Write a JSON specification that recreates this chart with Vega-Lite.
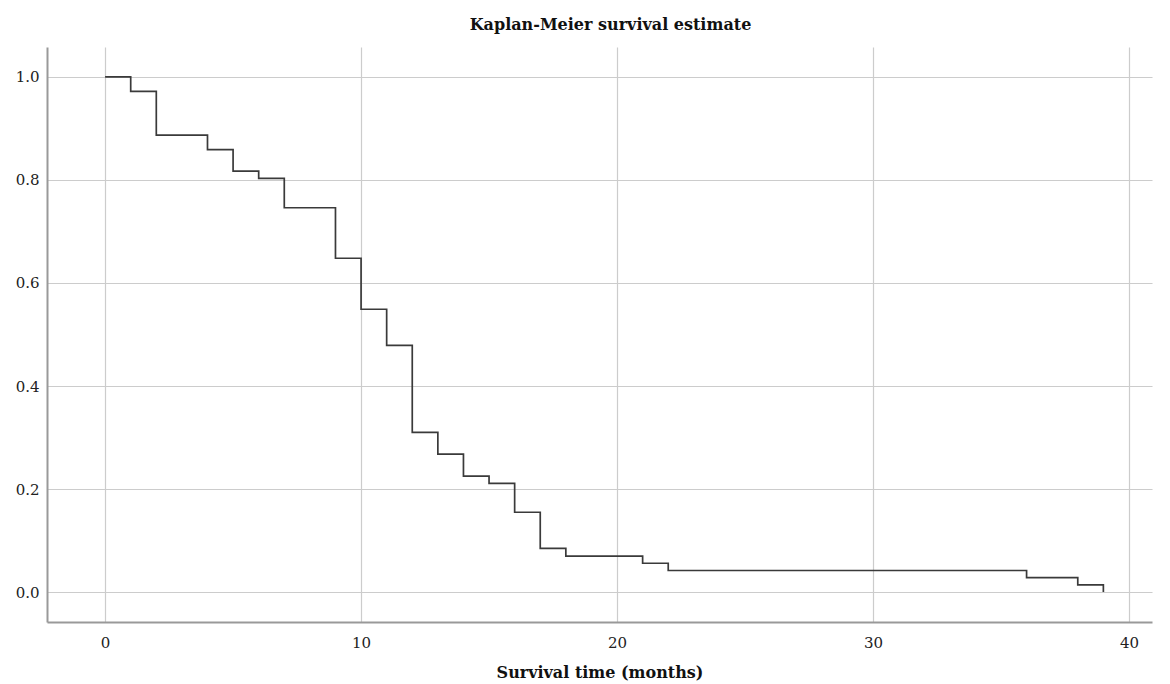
{
  "$schema": "https://vega.github.io/schema/vega-lite/v6.json",
  "width": 1105,
  "height": 575,
  "autosize": "none",
  "padding": {"left": 47, "top": 47, "right": 18, "bottom": 62},
  "background": "white",
  "title": {
    "text": "Kaplan-Meier survival estimate",
    "font": "DejaVu Serif",
    "fontSize": 16,
    "fontWeight": "bold",
    "color": "#111",
    "anchor": "middle",
    "offset": 14,
    "dx": 11
  },
  "config": {
    "view": {"stroke": null},
    "axis": {
      "labelFont": "DejaVu Serif",
      "labelFontSize": 15,
      "labelColor": "#222",
      "titleFont": "DejaVu Serif",
      "titleFontSize": 16,
      "titleFontWeight": "bold",
      "titleColor": "#111",
      "gridColor": "#cccccc",
      "gridWidth": 1.2,
      "domainColor": "#999999",
      "domainWidth": 2,
      "ticks": false
    }
  },
  "data": {
    "values": [
      {"time": 0, "survival": 1.0},
      {"time": 1, "survival": 0.972},
      {"time": 2, "survival": 0.887},
      {"time": 4, "survival": 0.859},
      {"time": 5, "survival": 0.817},
      {"time": 6, "survival": 0.803},
      {"time": 7, "survival": 0.746},
      {"time": 9, "survival": 0.648},
      {"time": 10, "survival": 0.549},
      {"time": 11, "survival": 0.479},
      {"time": 12, "survival": 0.310},
      {"time": 13, "survival": 0.268},
      {"time": 14, "survival": 0.225},
      {"time": 15, "survival": 0.211},
      {"time": 16, "survival": 0.155},
      {"time": 17, "survival": 0.085},
      {"time": 18, "survival": 0.070},
      {"time": 21, "survival": 0.056},
      {"time": 22, "survival": 0.042},
      {"time": 36, "survival": 0.028},
      {"time": 38, "survival": 0.014},
      {"time": 39, "survival": 0.0}
    ]
  },
  "mark": {"type": "line", "interpolate": "step-after", "color": "#3a3a3a", "strokeWidth": 1.7},
  "encoding": {
    "x": {
      "field": "time",
      "type": "quantitative",
      "scale": {"domain": [-2.27, 40.9], "nice": false, "zero": false},
      "axis": {
        "values": [0, 10, 20, 30, 40],
        "title": "Survival time (months)",
        "labelPadding": 13,
        "titlePadding": 14
      }
    },
    "y": {
      "field": "survival",
      "type": "quantitative",
      "scale": {"domain": [-0.058, 1.058], "nice": false, "zero": false},
      "axis": {
        "values": [0, 0.2, 0.4, 0.6, 0.8, 1.0],
        "format": ".1f",
        "title": null,
        "labelPadding": 8
      }
    }
  }
}
